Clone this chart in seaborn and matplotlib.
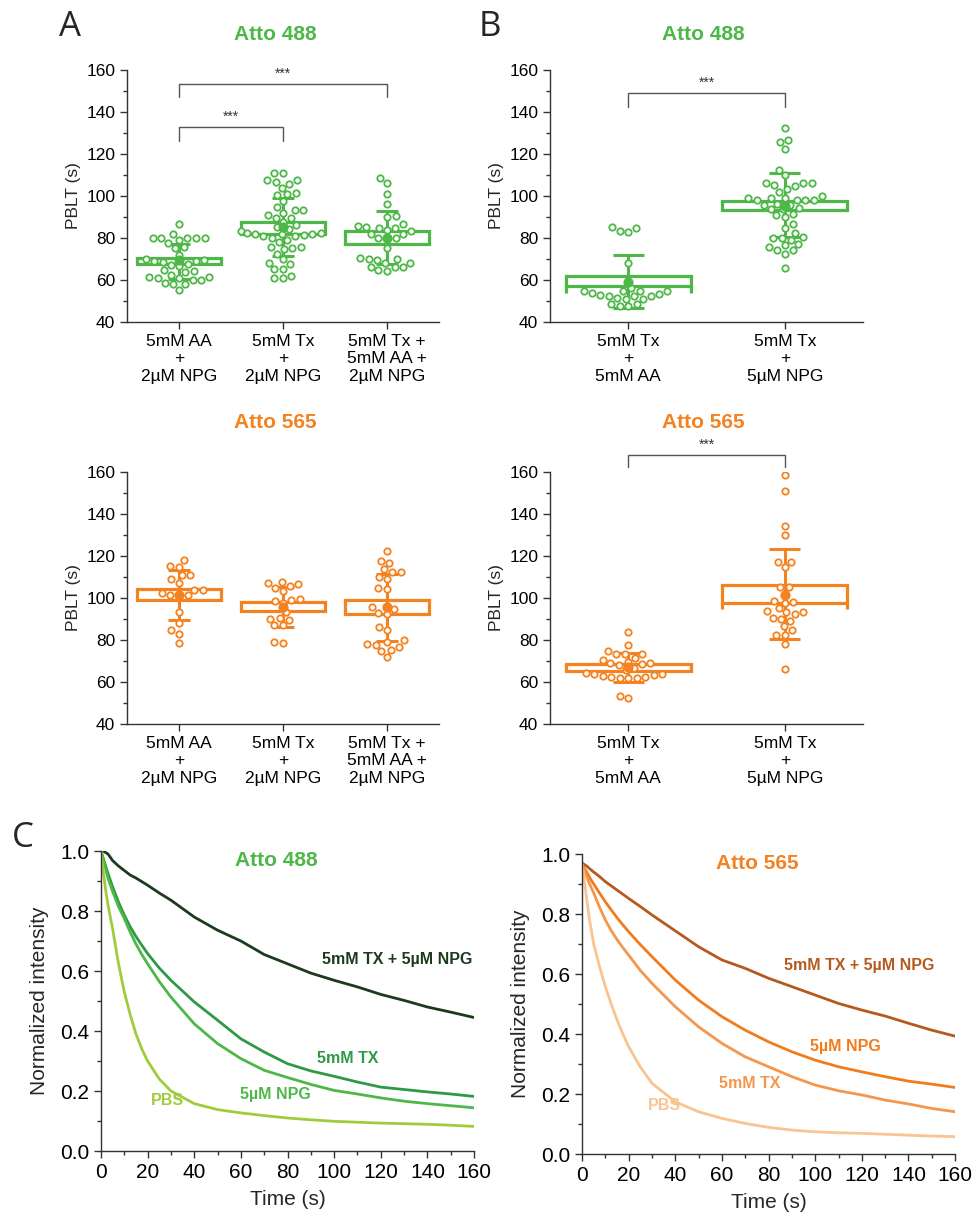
import numpy as np
import pandas as pd
import matplotlib
matplotlib.use("Agg")
import matplotlib.pyplot as plt
import seaborn as sns
from matplotlib.ticker import MultipleLocator

GREEN = "#4DB848"
ORANGE = "#F58220"
AXC = "#333333"

# ---------------- PBLT data (s) ----------------
a_labels = ["5mM AA\n+\n2µM NPG", "5mM Tx\n+\n2µM NPG", "5mM Tx +\n5mM AA +\n2µM NPG"]
b_labels = ["5mM Tx\n+\n5mM AA", "5mM Tx\n+\n5µM NPG"]

# Atto 488, panel A
a488_aa_npg = [86.6, 82.1, 80.0, 80.0, 80.0, 80.2, 79.2, 79.9, 77.6, 75.3, 75.7, 71.8,
               70.2, 69.1, 68.6, 68.9, 67.5, 66.7, 64.3, 64.6, 63.8, 61.6, 61.1, 61.6,
               61.1, 62.2, 58.7, 58.3, 58.3, 59.8, 59.8, 55.4, 69.5, 67.0]
a488_tx_npg = [111.0, 111.0, 107.5, 107.5, 106.6, 105.6, 103.9, 100.4, 100.9, 101.3,
               97.5, 93.2, 92.1, 93.2, 91.2, 94.8, 89.7, 89.7, 87.7, 83.4, 84.3, 85.3,
               86.1, 81.1, 81.6, 82.1, 82.1, 80.2, 80.8, 82.6, 82.1, 82.3, 79.2, 78.1,
               75.7, 75.3, 74.8, 75.7, 72.6, 70.0, 68.3, 67.5, 65.4, 65.4, 61.1, 61.1, 62.1]
a488_tx_aa_npg = [108.6, 106.3, 101.2, 96.4, 90.0, 90.4, 86.9, 85.3, 84.8, 84.0, 84.8,
                  82.0, 83.2, 85.6, 82.1, 80.0, 80.0, 80.0, 75.3, 69.4, 69.9, 70.2, 70.4,
                  68.1, 68.3, 66.2, 66.2, 66.2, 64.3, 64.6]
a488_box_hi = [70.6, 87.7, 83.2]
a488_box_mid = [67.6, 82.1, 77.3]
a488_box_lo = [67.6, 82.1, 77.3]
a488_mean = [69.5, 85.3, 80.2]
a488_sd_lo = [60.6, 71.3, 67.8]
a488_sd_hi = [77.0, 99.3, 92.9]

# Atto 565, panel A
a565_aa_npg = [117.9, 115.2, 114.6, 111.1, 110.8, 108.9, 107.1, 103.7, 104.0, 102.4,
               101.0, 101.3, 101.3, 93.3, 88.1, 84.6, 82.7, 78.6]
a565_tx_npg = [105.7, 107.6, 107.1, 106.8, 104.6, 103.3, 99.7, 98.9, 98.6, 97.8, 93.3,
               90.5, 90.2, 89.7, 86.9, 86.9, 78.6, 78.9]
a565_tx_aa_npg = [122.4, 116.7, 117.6, 113.7, 112.2, 112.2, 110.2, 109.0, 104.8, 104.3,
                  95.7, 94.6, 93.0, 92.5, 86.2, 84.6, 79.8, 79.0, 77.9, 77.8, 76.7, 74.6,
                  75.4, 71.9]
a565_box_hi = [104.4, 98.1, 99.2]
a565_box_mid = [98.9, 93.7, 92.2]
a565_box_lo = [98.9, 93.7, 92.2]
a565_mean = [101.3, 95.7, 95.7]
a565_sd_lo = [89.7, 86.2, 79.4]
a565_sd_hi = [113.5, 105.2, 111.6]

# Atto 488, panel B
b488_tx_aa = [83.4, 84.8, 82.9, 85.4, 68.1, 56.0, 53.8, 54.8, 54.8, 54.8, 51.4, 53.0,
              55.0, 51.1, 52.2, 52.5, 53.2, 51.1, 52.5, 47.4, 48.4, 48.4, 47.4]
b488_tx_npg = [132.2, 125.5, 126.5, 122.3, 112.6, 109.9, 106.3, 106.0, 105.2, 106.3,
               104.8, 103.4, 102.0, 100.1, 99.3, 98.3, 98.3, 98.3, 98.3, 99.2, 99.2,
               95.9, 93.7, 93.7, 94.3, 95.9, 96.4, 91.6, 89.9, 90.8, 86.5, 84.8, 82.6,
               80.5, 79.2, 80.2, 80.2, 75.7, 77.2, 74.1, 76.5, 72.6, 74.1, 65.9]
b488_box_hi = [61.9, 97.6]
b488_box_mid = [57.1, 93.3]
b488_box_lo = [53.7, 93.3]
b488_mean = [59.2, 95.2]
b488_sd_lo = [46.5, 80.3]
b488_sd_hi = [71.9, 110.8]

# Atto 565, panel B
b565_tx_aa = [83.8, 77.5, 74.9, 73.2, 71.4, 73.5, 73.2, 70.6, 69.5, 67.9, 69.0, 68.4,
              69.0, 66.8, 65.6, 64.4, 64.0, 64.0, 63.5, 62.7, 61.9, 61.9, 62.4, 62.4,
              61.9, 53.2, 52.5]
b565_tx_npg = [158.4, 150.8, 134.3, 130.2, 117.3, 117.3, 114.8, 105.2, 105.2, 101.9,
               98.4, 97.8, 98.3, 95.1, 93.7, 93.3, 92.5, 93.2, 90.6, 90.2, 89.2, 86.5,
               84.8, 82.5, 82.4, 78.3, 66.0]
b565_box_hi = [68.7, 106.0]
b565_box_mid = [65.2, 97.8]
b565_box_lo = [65.2, 94.9]
b565_mean = [67.1, 101.6]
b565_sd_lo = [60.0, 80.5]
b565_sd_hi = [73.8, 123.2]

# ---------------- bleaching curves ----------------
time_s = [0, 1, 2, 3, 5, 7.5, 10, 12.5, 15, 17.5, 20, 25, 30, 40, 50, 60, 70, 80, 90,
          100, 110, 120, 130, 140, 150, 160]

c488_tx_npg = [1.0, 1.0, 0.995, 0.99, 0.968, 0.95, 0.935, 0.92, 0.91, 0.898, 0.886, 0.86,
               0.836, 0.78, 0.736, 0.70, 0.655, 0.624, 0.593, 0.569, 0.547, 0.522, 0.502,
               0.48, 0.463, 0.445]
c488_tx = [1.0, 0.975, 0.95, 0.925, 0.88, 0.83, 0.786, 0.748, 0.715, 0.686, 0.658, 0.61,
           0.569, 0.497, 0.436, 0.374, 0.33, 0.291, 0.267, 0.249, 0.23, 0.213, 0.205,
           0.197, 0.19, 0.182]
c488_npg = [1.0, 0.97, 0.94, 0.91, 0.865, 0.815, 0.775, 0.73, 0.69, 0.655, 0.624, 0.565,
            0.513, 0.424, 0.358, 0.308, 0.269, 0.245, 0.222, 0.202, 0.19, 0.177, 0.166,
            0.158, 0.151, 0.144]
c488_pbs = [1.0, 0.93, 0.87, 0.82, 0.74, 0.625, 0.53, 0.455, 0.39, 0.34, 0.30, 0.24,
            0.20, 0.158, 0.138, 0.127, 0.118, 0.11, 0.104, 0.099, 0.096, 0.093, 0.091,
            0.089, 0.086, 0.082]

c565_tx_npg = [0.97, 0.965, 0.96, 0.953, 0.94, 0.925, 0.908, 0.894, 0.88, 0.866, 0.852,
               0.825, 0.797, 0.744, 0.691, 0.647, 0.619, 0.586, 0.558, 0.53, 0.502, 0.48,
               0.46, 0.436, 0.413, 0.393]
c565_npg = [0.965, 0.953, 0.94, 0.925, 0.90, 0.87, 0.841, 0.814, 0.788, 0.764, 0.741,
            0.698, 0.658, 0.58, 0.513, 0.458, 0.413, 0.374, 0.341, 0.313, 0.291, 0.274,
            0.258, 0.243, 0.233, 0.222]
c565_tx = [0.965, 0.945, 0.925, 0.905, 0.87, 0.823, 0.78, 0.745, 0.715, 0.688, 0.663,
           0.612, 0.569, 0.491, 0.424, 0.369, 0.324, 0.291, 0.258, 0.23, 0.211, 0.197,
           0.18, 0.167, 0.152, 0.141]
c565_pbs = [0.965, 0.91, 0.85, 0.79, 0.70, 0.625, 0.558, 0.50, 0.447, 0.40, 0.358, 0.29,
            0.236, 0.174, 0.141, 0.119, 0.102, 0.089, 0.08, 0.074, 0.071, 0.069, 0.066,
            0.063, 0.06, 0.058]

sns.set_style("ticks")
plt.rcParams["font.family"] = ["Liberation Sans", "DejaVu Sans"]
plt.rcParams["axes.edgecolor"] = AXC
plt.rcParams["xtick.color"] = AXC
plt.rcParams["ytick.color"] = AXC

fig = plt.figure(figsize=(9.73, 12.18), dpi=100)


def style_axes(ax, fs):
    sns.despine(ax=ax)
    for s in ("left", "bottom"):
        ax.spines[s].set_linewidth(1.0)
    ax.tick_params(which="major", direction="out", length=5, width=1, labelsize=fs,
                   labelcolor="black")
    ax.tick_params(which="minor", direction="out", length=3, width=1)


def box_panel(ax, labels, groups, color, hi, mid, lo, mean, sd_lo, sd_hi, cap):
    df = pd.DataFrame({
        "cond": np.repeat(labels, [len(g) for g in groups]),
        "pblt": np.concatenate(groups),
    })
    for i in range(len(labels)):
        ax.plot([i - 0.4, i + 0.4], [hi[i], hi[i]], color=color, lw=2.3, zorder=2,
                solid_capstyle="projecting")
        ax.plot([i - 0.4, i + 0.4], [mid[i], mid[i]], color=color, lw=2.3, zorder=2,
                solid_capstyle="projecting")
        ax.vlines([i - 0.4, i + 0.4], lo[i], hi[i], color=color, lw=2.3, zorder=2)
        ax.vlines(i, sd_lo[i], sd_hi[i], color=color, lw=2.2, zorder=2)
        ax.hlines([sd_lo[i], sd_hi[i]], i - cap, i + cap, color=color, lw=2.2, zorder=2)
    n0 = len(ax.collections)
    sns.swarmplot(data=df, x="cond", y="pblt", order=labels, ax=ax, size=4.6,
                  color=color, linewidth=1.3, edgecolor=color, zorder=4)
    for coll in ax.collections[n0:]:
        coll.set_facecolor("white")
        coll.set_edgecolor(color)
    ax.scatter(range(len(labels)), mean, s=40, color=color, zorder=5)
    ax.set_xlim(-0.5, len(labels) - 0.5)
    ax.set_ylim(40, 160)
    ax.set_yticks(range(40, 161, 20))
    ax.yaxis.set_minor_locator(MultipleLocator(10))
    ax.set_xlabel("")
    ax.set_ylabel("PBLT (s)", fontsize=12.5)
    style_axes(ax, 12.5)


def bracket(ax, x0, x1, y, leg):
    ax.plot([x0, x0, x1, x1], [leg, y, y, leg], color="#555555", lw=1.0, clip_on=False)
    ax.text((x0 + x1) / 2, y + 1.5, "***", ha="center", va="bottom", fontsize=10,
            color="#333333", clip_on=False)


ax1 = fig.add_axes([0.1305, 0.7356, 0.3207, 0.2069])
box_panel(ax1, a_labels, [a488_aa_npg, a488_tx_npg, a488_tx_aa_npg], GREEN,
          a488_box_hi, a488_box_mid, a488_box_lo, a488_mean, a488_sd_lo, a488_sd_hi, 0.11)
bracket(ax1, 0, 1, 132.9, 126.1)
bracket(ax1, 0, 2, 153.3, 147.3)

ax2 = fig.add_axes([0.5653, 0.7356, 0.3217, 0.2069])
box_panel(ax2, b_labels, [b488_tx_aa, b488_tx_npg], GREEN,
          b488_box_hi, b488_box_mid, b488_box_lo, b488_mean, b488_sd_lo, b488_sd_hi, 0.1)
bracket(ax2, 0, 1, 148.9, 142.3)

ax3 = fig.add_axes([0.1305, 0.4056, 0.3207, 0.2069])
box_panel(ax3, a_labels, [a565_aa_npg, a565_tx_npg, a565_tx_aa_npg], ORANGE,
          a565_box_hi, a565_box_mid, a565_box_lo, a565_mean, a565_sd_lo, a565_sd_hi, 0.11)

ax4 = fig.add_axes([0.5653, 0.4056, 0.3217, 0.2069])
box_panel(ax4, b_labels, [b565_tx_aa, b565_tx_npg], ORANGE,
          b565_box_hi, b565_box_mid, b565_box_lo, b565_mean, b565_sd_lo, b565_sd_hi, 0.1)
bracket(ax4, 0, 1, 168.1, 162.2)


def decay_panel(ax, curves, colors, title, tcolor):
    for vals, c in zip(curves, colors):
        sns.lineplot(x=time_s, y=vals, ax=ax, color=c, lw=2.0)
    ax.set_xlim(0, 160)
    ax.set_ylim(0, 1.0)
    ax.set_xticks(range(0, 161, 20))
    ax.xaxis.set_minor_locator(MultipleLocator(10))
    ax.set_yticks(np.arange(0, 1.01, 0.2))
    ax.yaxis.set_minor_locator(MultipleLocator(0.1))
    ax.yaxis.set_major_formatter(matplotlib.ticker.FormatStrFormatter("%.1f"))
    ax.set_xlabel("Time (s)", fontsize=15, labelpad=6)
    ax.set_ylabel("Normalized intensity", fontsize=15, labelpad=8)
    ax.text(0.47, 0.97, title, transform=ax.transAxes, ha="center", va="center",
            fontsize=15, fontweight="bold", color=tcolor)
    style_axes(ax, 15)


c488_colors = ["#1C3A1C", "#2E9A45", "#4DB848", "#A0CC3C"]
ax5 = fig.add_axes([0.1038, 0.0550, 0.3834, 0.2463])
decay_panel(ax5, [c488_tx_npg, c488_tx, c488_npg, c488_pbs], c488_colors, "Atto 488", GREEN)
ax5.text(127, 0.64, "5mM TX + 5µM NPG", ha="center", va="center", fontsize=11.5,
         fontweight="bold", color=c488_colors[0])
ax5.text(106, 0.31, "5mM TX", ha="center", va="center", fontsize=11.5,
         fontweight="bold", color=c488_colors[1])
ax5.text(75, 0.19, "5µM NPG", ha="center", va="center", fontsize=11.5,
         fontweight="bold", color=c488_colors[2])
ax5.text(28.5, 0.17, "PBS", ha="center", va="center", fontsize=11.5,
         fontweight="bold", color=c488_colors[3])

c565_colors = ["#B5591F", "#F07C1B", "#F5964B", "#F9C491"]
ax6 = fig.add_axes([0.5982, 0.0525, 0.3834, 0.2463])
decay_panel(ax6, [c565_tx_npg, c565_npg, c565_tx, c565_pbs], c565_colors, "Atto 565", ORANGE)
ax6.text(119, 0.63, "5mM TX + 5µM NPG", ha="center", va="center", fontsize=11.5,
         fontweight="bold", color=c565_colors[0])
ax6.text(113, 0.36, "5µM NPG", ha="center", va="center", fontsize=11.5,
         fontweight="bold", color=c565_colors[1])
ax6.text(72, 0.235, "5mM TX", ha="center", va="center", fontsize=11.5,
         fontweight="bold", color=c565_colors[2])
ax6.text(35.5, 0.163, "PBS", ha="center", va="center", fontsize=11.5,
         fontweight="bold", color=c565_colors[3])

# titles and panel letters
fig.text(275 / 973, 1 - 35 / 1218, "Atto 488", ha="center", va="center", fontsize=15,
         fontweight="bold", color=GREEN)
fig.text(703 / 973, 1 - 35 / 1218, "Atto 488", ha="center", va="center", fontsize=15,
         fontweight="bold", color=GREEN)
fig.text(275 / 973, 1 - 422 / 1218, "Atto 565", ha="center", va="center", fontsize=15,
         fontweight="bold", color=ORANGE)
fig.text(703 / 973, 1 - 422 / 1218, "Atto 565", ha="center", va="center", fontsize=15,
         fontweight="bold", color=ORANGE)
for letter, x, y in [("A", 70, 27), ("B", 490, 27), ("C", 23, 838)]:
    fig.text(x / 973, 1 - y / 1218, letter, ha="center", va="center", fontsize=25,
             family=["Open Sans", "DejaVu Sans"])

fig.savefig("out.png", dpi=100)
